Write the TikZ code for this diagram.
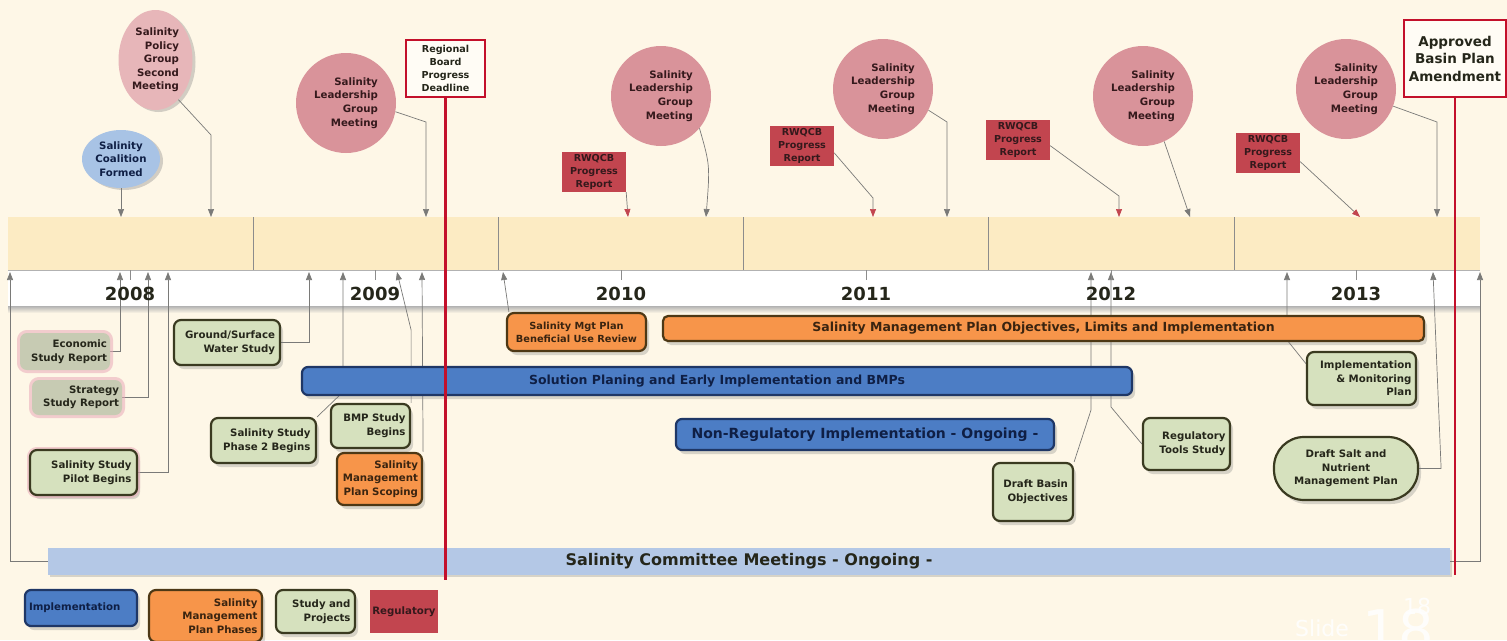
\documentclass[tikz,border=0pt]{standalone}
\usepackage{fontspec}
\setmainfont{DejaVu Sans}
\usetikzlibrary{arrows.meta,shapes.geometric,shadows,positioning}
\pgfdeclarelayer{background}
\pgfsetlayers{background,main}
\definecolor{bgcream}{HTML}{FEF7E7}
\definecolor{bandtan}{HTML}{FCEBC3}
\definecolor{meetpink}{HTML}{D9939A}
\definecolor{policypink}{HTML}{E7B6B9}
\definecolor{coalblue}{HTML}{A8C3E5}
\definecolor{rwred}{HTML}{C2454F}
\definecolor{studygreen}{HTML}{D6E1BE}
\definecolor{studyedge}{HTML}{3A3A20}
\definecolor{reportgrey}{HTML}{C7CBB3}
\definecolor{glowpink}{HTML}{E9A9B8}
\definecolor{smporange}{HTML}{F7954A}
\definecolor{smpedge}{HTML}{4D3815}
\definecolor{implblue}{HTML}{4C7DC5}
\definecolor{impledge}{HTML}{1F3766}
\definecolor{cmtblue}{HTML}{B4C8E6}
\definecolor{deadred}{HTML}{C3102B}
\definecolor{linkgrey}{HTML}{7A7A78}
\definecolor{inkdark}{HTML}{25261A}
\definecolor{inkmaroon}{HTML}{35191C}
\definecolor{inknavy}{HTML}{0F1F45}
\definecolor{inkbrown}{HTML}{3A2410}
\newcommand{\labelfont}{\fontsize{10.2}{13.6}\selectfont\bfseries}
\newcommand{\barfont}{\fontsize{12.5}{15}\selectfont\bfseries}
\tikzstyle{meeting}=[circle, fill=meetpink, minimum size=100pt, inner sep=0pt, align=right, font=\labelfont, text=inkmaroon]
\tikzstyle{bubble}=[ellipse, inner sep=0pt, align=center, font=\labelfont, drop shadow={shadow xshift=3pt, shadow yshift=-2pt, opacity=.35}]
\tikzstyle{rwqcb}=[rectangle, fill=rwred, minimum width=64pt, minimum height=40pt, inner sep=0pt, align=center, font=\fontsize{9.6}{12.8}\selectfont\bfseries, text=inkmaroon]
\tikzstyle{deadline}=[rectangle, draw=deadred, line width=2pt, fill=white!60!bgcream, inner sep=0pt, align=center, text=inkdark]
\tikzstyle{study}=[rectangle, rounded corners=7pt, draw=studyedge, line width=2.2pt, fill=studygreen, inner sep=0pt, align=right, font=\labelfont, text=inkdark, drop shadow={shadow xshift=3pt, shadow yshift=-4pt, opacity=.3}]
\tikzstyle{phase}=[study, fill=smporange, draw=smpedge, text=inkbrown]
\tikzstyle{impl}=[study, fill=implblue, draw=impledge, text=inknavy, rounded corners=6pt]
\tikzstyle{report}=[rectangle, rounded corners=7pt, fill=reportgrey, inner sep=0pt, align=right, font=\labelfont, text=inkdark]
\tikzstyle{glow}=[preaction={draw=glowpink, line width=6pt, opacity=.55}]
\tikzstyle{yearlabel}=[font=\fontsize{18}{18}\selectfont\bfseries, text=inkdark]
\tikzstyle{pointer}=[draw=linkgrey, line width=0.7pt, -{Triangle[width=6pt,length=8pt]}]
\tikzstyle{rwpointer}=[pointer, -{Triangle[width=6pt,length=8pt,color=rwred]}]
\tikzstyle{cutoff}=[draw=deadred, line width=2.6pt]
\tikzstyle{watermark}=[text=white, opacity=.85, inner sep=0pt]

\begin{document}
\begin{tikzpicture}[x=1pt,y=-1pt]
    \useasboundingbox (0,0) rectangle (1507,640);
    % Draw the time band first
    \begin{pgfonlayer}{background}
        \fill[bgcream] (0,0) rectangle (1507,640);
        \fill[bandtan] (8,217) rectangle (1480,270);
        \shade[top color=black!30, bottom color=bgcream] (8,306) rectangle (1480,313);
        \fill[white] (8,270) rectangle (1480,306);
        \draw[black!30] (8,270) -- (1480,270);
        \foreach \x in {253,498,743,988,1234}
            \draw[black!45] (\x,217) -- (\x,270);
    \end{pgfonlayer}

    % Years on the band
    \foreach \x/\yr in {130/2008, 375/2009, 621/2010, 866/2011, 1111/2012, 1356/2013} {
        \draw[black!45, line width=1pt] (\x,270) -- (\x,280);
        \node[yearlabel] (y\yr) at (\x,294) {\yr};
    }

    % Points on the band where the arrows end
    \foreach \x/\name in {121/a1, 211/a2, 426/a3, 628/a4, 706/a5, 873/a6, 947/a7, 1119/a8, 1190/a9, 1360/a10, 1437/a11}
        \coordinate (\name) at (\x,217);
    \foreach \x/\name in {10/b0, 120/b1, 148/b2, 168/b3, 309/b4, 343/b5, 397/b6, 422/b7, 503/b8, 1091/b9, 1111/b10, 1287/b11, 1433/b12, 1480/b13}
        \coordinate (\name) at (\x,272);

    % Events above the band
    \node[bubble, fill=coalblue, minimum width=78pt, minimum height=58pt, text=inknavy] (coal) at (121,159) {Salinity\\Coalition\\Formed};
    \node[bubble, fill=policypink, minimum width=74pt, minimum height=100pt, align=right, text=inkmaroon] (policy) at (155.5,60) {Salinity\\Policy\\Group\\Second\\Meeting};
    \foreach \pos/\name in {{(346,103)/slg09}, {(661,96)/slg10}, {(883,89)/slg11}, {(1143,96)/slg12}, {(1346,89)/slg13}}
        \node[meeting] (\name) at \pos {Salinity\\Leadership\\Group\\Meeting};
    \foreach \pos/\name in {{(594,172)/rw10}, {(802,146)/rw11}, {(1018,140)/rw12}, {(1268,153)/rw13}}
        \node[rwqcb] (\name) at \pos {RWQCB\\Progress\\Report};
    \node[deadline, minimum width=79pt, minimum height=57pt, font=\fontsize{9.6}{13}\selectfont\bfseries] (rb) at (445.5,68.5) {Regional\\Board\\Progress\\Deadline};
    \node[deadline, minimum width=102pt, minimum height=77pt, font=\fontsize{13.5}{17.5}\selectfont\bfseries] (bpa) at (1455,58.5) {Approved\\Basin Plan\\Amendment};

    % Studies and phases below the band
    \node[report, glow, minimum width=90pt, minimum height=37pt, text width=84pt] (econ) at (65,351.5) {Economic\\Study Report};
    \node[report, glow, minimum width=90pt, minimum height=35pt, text width=84pt] (strat) at (77,397.5) {Strategy\\Study Report};
    \node[study, glow, minimum width=107pt, minimum height=45pt, text width=96pt] (pilot) at (83.5,472.5) {Salinity Study\\Pilot Begins};
    \node[study, minimum width=106pt, minimum height=45pt, text width=96pt] (gsw) at (227,342.5) {Ground/Surface\\Water Study};
    \node[study, minimum width=105pt, minimum height=45pt, text width=94pt] (ph2) at (263.5,440.5) {Salinity Study\\Phase 2 Begins};
    \node[study, minimum width=79pt, minimum height=44pt, text width=70pt] (bmp) at (370.5,426) {BMP Study\\Begins};
    \node[phase, minimum width=85pt, minimum height=52pt, text width=77pt] (scope) at (379.5,479) {Salinity\\Management\\Plan Scoping};
    \node[phase, minimum width=139pt, minimum height=38pt, align=center, font=\fontsize{9.8}{13}\selectfont\bfseries] (bur) at (576.5,332) {Salinity Mgt Plan\\Beneficial Use Review};
    \node[phase, rounded corners=5pt, minimum width=761pt, minimum height=25pt, align=center, font=\barfont] (smpo) at (1043.5,328.5) {Salinity Management Plan Objectives, Limits and Implementation};
    \node[impl, minimum width=830pt, minimum height=28pt, align=center, font=\barfont] (spe) at (717,381) {Solution Planing and Early Implementation and BMPs};
    \node[impl, minimum width=378pt, minimum height=31pt, align=center, font=\fontsize{14}{16}\selectfont\bfseries] (nri) at (865,434.5) {Non-Regulatory Implementation - Ongoing -};
    \node[study, minimum width=80pt, minimum height=58pt, text width=70pt] (dbo) at (1033,492) {Draft Basin\\Objectives};
    \node[study, minimum width=87pt, minimum height=52pt, text width=78pt] (rts) at (1186.5,444) {Regulatory\\Tools Study};
    \node[study, minimum width=109pt, minimum height=53pt, text width=100pt] (imp) at (1361.5,378.5) {Implementation\\\& Monitoring\\Plan};
    \node[study, rounded corners=30pt, minimum width=144pt, minimum height=63pt, align=center] (dsn) at (1346,468.5) {Draft Salt and\\Nutrient\\Management Plan};
    \node[rectangle, fill=cmtblue, minimum width=1402pt, minimum height=27pt, inner sep=0pt, font=\fontsize{16}{18}\selectfont\bfseries, text=inkdark, drop shadow={shadow xshift=2pt, shadow yshift=-2pt, opacity=.3}] (scm) at (749,561.5) {Salinity Committee Meetings - Ongoing -};

    % Legend
    \node[impl, minimum width=112pt, minimum height=36pt, text width=104pt, align=left] (lgimp) at (81,608) {Implementation};
    \node[phase, minimum width=113pt, minimum height=52pt, text width=104pt] (lgsmp) at (205.5,616) {Salinity\\Management\\Plan Phases};
    \node[study, minimum width=79pt, minimum height=43pt, text width=70pt] (lgstudy) at (315.5,611.5) {Study and\\Projects};
    \node[rectangle, fill=rwred, minimum width=68pt, minimum height=43pt, inner sep=0pt, font=\labelfont, text=inkmaroon] (lgreg) at (404,611.5) {Regulatory};

    % Connect events to the band
    \begin{pgfonlayer}{background}
        \draw[pointer] (coal) -- (a1);
        \draw[pointer] (policy.-60) -- (a2 |- 0,135) -- (a2);
        \draw[pointer] (slg09.-10) -- (a3 |- 0,122) -- (a3);
        \draw[rwpointer] (rw10.south east) -- (a4);
        \draw[pointer] (slg10.-40) .. controls (710,165) .. (a5);
        \draw[rwpointer] (rw11.-12) -- (a6 |- 0,198) -- (a6);
        \draw[pointer] (slg11.-25) -- (a7 |- 0,122) -- (a7);
        \draw[rwpointer] (rw12.-10) -- (a8 |- 0,196) -- (a8);
        \draw[pointer] (slg12.-65) -- (a9);
        \draw[rwpointer] (rw13.-15) -- (a10);
        \draw[pointer] (slg13.-20) -- (a11 |- 0,122) -- (a11);
        % and the ones from below
        \draw[pointer] (scm.west) -| (b0);
        \draw[pointer] (scm.east) -| (b13);
        \draw[pointer] (econ.east) -| (b1);
        \draw[pointer] (strat.east) -| (b2);
        \draw[pointer] (pilot.east) -| (b3);
        \draw[pointer] (gsw.east) -| (b4);
        \draw[pointer] (ph2.north east) -- (b5 |- 0,392) -- (b5);
        \draw[pointer] (bmp.north east) -- (bmp.north east |- 0,330) -- (b6);
        \draw[pointer] (scope.north east) -- (b7);
        \draw[pointer] ([xshift=3pt]bur.north west) -- (b8);
        \draw[pointer] (dbo.north east) -- (b9 |- 0,410) -- (b9);
        \draw[pointer] (rts.west) -- (b10 |- 0,407) -- (b10);
        \draw[pointer] (imp.165) -- (b11 |- 0,340) -- (b11);
        \draw[pointer] (dsn.east) -- ++(22,0) -- (b12);
    \end{pgfonlayer}

    % Deadlines
    \coordinate (rbend) at (rb.south |- 0,580);
    \coordinate (bpaend) at (bpa.south |- 0,575);
    \draw[cutoff] (rb.south) -- (rbend);
    \draw[cutoff] (bpa.south) -- (bpaend);

    % Slide number
    \node[watermark, font=\fontsize{22}{22}\selectfont] (slide) at (1322,628) {Slide};
    \node[watermark, font=\fontsize{56}{56}\selectfont] (num) at (1398,630) {18};
    \node[watermark, font=\fontsize{22}{22}\selectfont] (numsmall) at (1417,606) {18};
\end{tikzpicture}
\end{document}
